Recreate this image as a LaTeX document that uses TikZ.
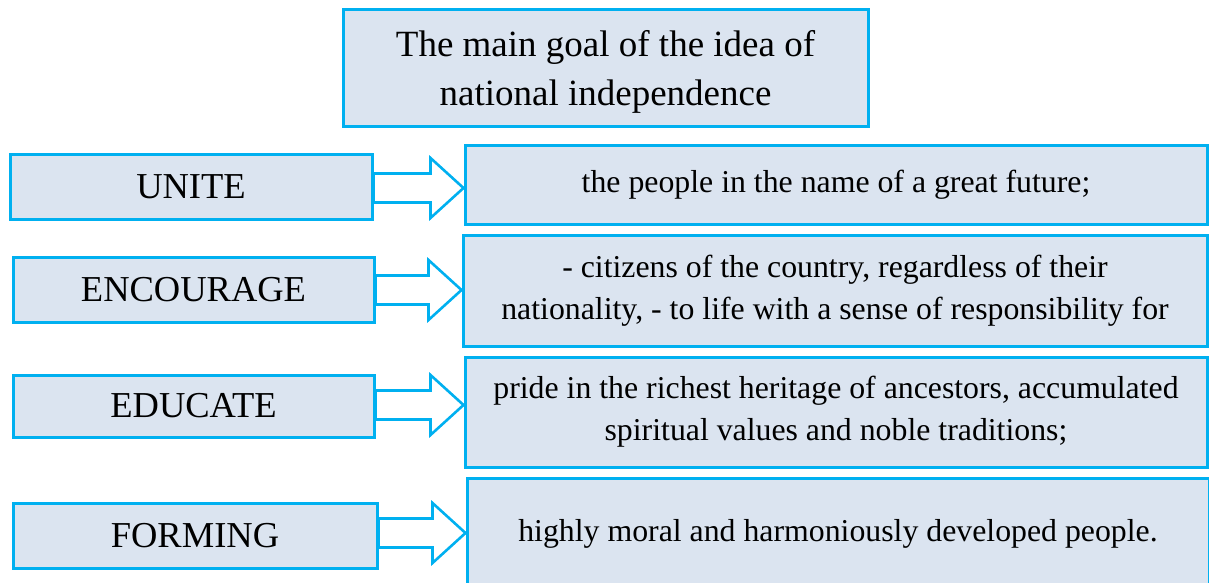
\documentclass[tikz,border=0pt]{standalone}
\usepackage{fontspec}
\setmainfont{Liberation Serif}
\usetikzlibrary{calc}
\definecolor{bfill}{HTML}{DBE4F0}
\definecolor{bline}{HTML}{00B0F0}
\tikzset{
  box/.style={draw=bline, fill=bfill, line width=3pt, inner sep=0pt, align=center},
  lbox/.style={box, font=\fontsize{36.5}{42}\selectfont},
  rbox/.style={box, font=\fontsize{31.8}{42}\selectfont},
  arr/.style={draw=bline, fill=white, line width=2.6pt, line join=miter}
}
\newcommand{\barrow}[3]{%
  \draw[arr] let \p1=(#1.east), \p2=(#2.west), \p3=(0,#3) in
    (\x1,{\y3+14.5pt}) -- ({\x2-33pt},{\y3+14.5pt}) -- ({\x2-33pt},{\y3+30pt}) --
    (\x2,\y3) -- ({\x2-33pt},{\y3-30pt}) -- ({\x2-33pt},{\y3-14.5pt}) -- (\x1,{\y3-14.5pt}) -- cycle;}
\begin{document}
\begin{tikzpicture}[x=1pt,y=-1pt]
\useasboundingbox (0,0) rectangle (1209,583);
\clip (0,0) rectangle (1209,583);
\node[box, minimum width=525pt, minimum height=117pt] (top) at (605.5,68.5) {};
\node[align=center, inner sep=0pt, font=\fontsize{37}{49}\selectfont] (toptext) at ($(top.center)+(0,3.5)$)
  {The main goal of the idea of\\national independence};
\node[lbox, minimum width=362pt, minimum height=65pt] (l1) at (191,186.5) {UNITE};
\node[rbox, minimum width=742pt, minimum height=79pt] (r1) at (836,184.5) {the people in the name of a great future;};
\node[lbox, minimum width=361pt, minimum height=65pt] (l2) at (193.5,289.5) {ENCOURAGE};
\node[rbox, minimum width=744pt, minimum height=111pt] (r2) at (835,290.5)
  {- citizens of the country, regardless of their\\nationality, - to life with a sense of responsibility for};
\node[lbox, minimum width=361pt, minimum height=62pt] (l3) at (193.5,406) {EDUCATE};
\node[rbox, minimum width=742pt, minimum height=110pt] (r3) at (836,412)
  {pride in the richest heritage of ancestors, accumulated\\spiritual values and noble traditions;};
\node[lbox, minimum width=364pt, minimum height=65pt] (l4) at (195,535.5) {FORMING};
\node[rbox, minimum width=742pt, minimum height=112pt] (r4) at (838,534)
  {highly moral and harmoniously developed people.};
\barrow{l1}{r1}{188}
\barrow{l2}{r2}{290}
\barrow{l3}{r3}{405}
\barrow{l4}{r4}{533}
\end{tikzpicture}
\end{document}
